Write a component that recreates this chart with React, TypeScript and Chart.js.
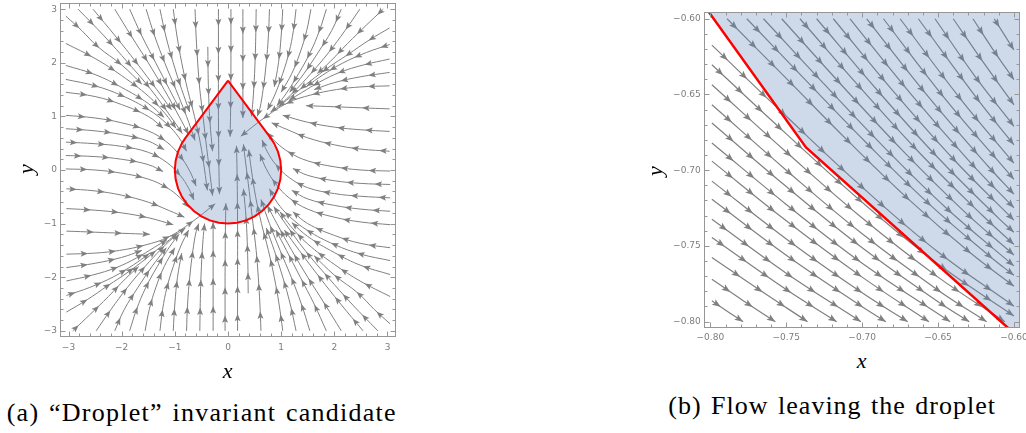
import React, { useEffect, useRef } from "react";
import { Chart, registerables } from "chart.js";

Chart.register(...registerables);

type Pt = [number, number];

// ---------------- Plot (a): "Droplet" invariant candidate ----------------
const xTicksA = [-3, -2, -1, 0, 1, 2, 3];
const xTickLabelsA = ["−3", "−2", "−1", "0", "1", "2", "3"];
const yTicksA = [-3, -2, -1, 0, 1, 2, 3];
const yTickLabelsA = ["−3", "−2", "−1", "0", "1", "2", "3"];

const dropletX = [0, 0.8, 0.866, 0.9397, 0.9848, 1, 0.9848, 0.9397, 0.866, 0.766, 0.6428, 0.5, 0.342, 0.1736, 0, -0.1736, -0.342, -0.5, -0.6428, -0.766, -0.866, -0.9397, -0.9848, -1, -0.9848, -0.9397, -0.866, -0.8, 0];
const dropletY = [1.6667, 0.6, 0.5, 0.342, 0.1736, 0, -0.1736, -0.342, -0.5, -0.6428, -0.766, -0.866, -0.9397, -0.9848, -1, -0.9848, -0.9397, -0.866, -0.766, -0.6428, -0.5, -0.342, -0.1736, 0, 0.1736, 0.342, 0.5, 0.6, 1.6667];

const streamsTopLeft: Pt[][] = [
  [[-2.82, 3.0], [-2.33, 2.5], [-1.88, 2.0], [-1.45, 1.5], [-1.08, 1.0], [-0.86, 0.68]],
  [[-2.54, 3.0], [-2.12, 2.5], [-1.72, 2.0], [-1.34, 1.5], [-1.06, 1.12]],
  [[-2.13, 3.0], [-1.82, 2.5], [-1.5, 2.0], [-1.2, 1.5], [-0.92, 1.0], [-0.74, 0.66]],
  [[-1.85, 3.0], [-1.62, 2.5], [-1.36, 2.0], [-1.1, 1.5], [-0.9, 1.12]],
  [[-1.54, 3.0], [-1.38, 2.5], [-1.19, 2.0], [-0.98, 1.5], [-0.78, 1.0], [-0.62, 0.55]],
  [[-1.28, 3.0], [-1.17, 2.5], [-1.03, 2.0], [-0.87, 1.5], [-0.72, 1.08]],
  [[-1.03, 3.0], [-0.96, 2.5], [-0.87, 2.0], [-0.76, 1.5], [-0.63, 1.0], [-0.52, 0.5], [-0.44, 0.0], [-0.39, -0.38]],
  [[-0.62, 3.0], [-0.6, 2.5], [-0.57, 2.0], [-0.53, 1.5], [-0.47, 1.0], [-0.4, 0.4], [-0.33, -0.15], [-0.29, -0.48]],
  [[-0.38, 2.3], [-0.37, 1.6], [-0.34, 0.9], [-0.29, 0.35]],
  [[-0.18, 3.0], [-0.18, 2.0], [-0.18, 1.0], [-0.17, 0.0], [-0.16, -0.45]],
  [[-3.05, 2.87], [-2.75, 2.6], [-2.45, 2.3], [-2.0, 1.96], [-1.62, 1.6]],
  [[-3.05, 2.36], [-2.5, 2.08], [-2.0, 1.76], [-1.5, 1.38], [-1.18, 1.05], [-0.98, 0.78]],
  [[-3.05, 1.95], [-2.5, 1.78], [-2.0, 1.54], [-1.5, 1.24], [-1.2, 0.98]],
  [[-3.05, 1.69], [-2.5, 1.57], [-2.0, 1.39], [-1.5, 1.13], [-1.15, 0.86], [-0.92, 0.6], [-0.78, 0.35]],
  [[-3.05, 1.45], [-2.5, 1.37], [-2.0, 1.22], [-1.5, 1.0], [-1.22, 0.78]],
  [[-3.05, 1.02], [-2.5, 0.97], [-2.0, 0.88], [-1.5, 0.73], [-1.15, 0.52], [-0.9, 0.26], [-0.72, -0.02], [-0.6, -0.3]],
  [[-3.05, 0.77], [-2.5, 0.73], [-2.0, 0.66], [-1.5, 0.54], [-1.2, 0.38]],
  [[-3.05, 0.52], [-2.5, 0.49], [-2.0, 0.44], [-1.5, 0.33], [-1.15, 0.14], [-0.9, -0.1], [-0.74, -0.34], [-0.64, -0.56]],
  [[-3.05, 0.27], [-2.5, 0.25], [-2.0, 0.2], [-1.5, 0.1], [-1.22, -0.03]],
  [[-3.05, 0.02], [-2.5, 0.0], [-2.0, -0.06], [-1.5, -0.17], [-1.15, -0.33], [-0.9, -0.52], [-0.74, -0.7]],
];

const streamsBottomRight: Pt[][] = [
  [[2.82, -3.0], [2.33, -2.5], [1.88, -2.0], [1.45, -1.5], [1.08, -1.0], [0.86, -0.68]],
  [[2.54, -3.0], [2.12, -2.5], [1.72, -2.0], [1.34, -1.5], [1.06, -1.12]],
  [[2.13, -3.0], [1.82, -2.5], [1.5, -2.0], [1.2, -1.5], [0.92, -1.0], [0.74, -0.66]],
  [[1.85, -3.0], [1.62, -2.5], [1.36, -2.0], [1.1, -1.5], [0.9, -1.12]],
  [[1.54, -3.0], [1.38, -2.5], [1.19, -2.0], [0.98, -1.5], [0.78, -1.0], [0.62, -0.55]],
  [[1.28, -3.0], [1.17, -2.5], [1.03, -2.0], [0.87, -1.5], [0.72, -1.08]],
  [[1.03, -3.0], [0.96, -2.5], [0.87, -2.0], [0.76, -1.5], [0.63, -1.0], [0.52, -0.5], [0.44, 0.0], [0.39, 0.38]],
  [[0.62, -3.0], [0.6, -2.5], [0.57, -2.0], [0.53, -1.5], [0.47, -1.0], [0.4, -0.4], [0.33, 0.15], [0.29, 0.48]],
  [[0.38, -2.3], [0.37, -1.6], [0.34, -0.9], [0.29, -0.35]],
  [[0.18, -3.0], [0.18, -2.0], [0.18, -1.0], [0.17, 0.0], [0.16, 0.45]],
  [[3.05, -2.87], [2.75, -2.6], [2.45, -2.3], [2.0, -1.96], [1.62, -1.6]],
  [[3.05, -2.36], [2.5, -2.08], [2.0, -1.76], [1.5, -1.38], [1.18, -1.05], [0.98, -0.78]],
  [[3.05, -1.95], [2.5, -1.78], [2.0, -1.54], [1.5, -1.24], [1.2, -0.98]],
  [[3.05, -1.69], [2.5, -1.57], [2.0, -1.39], [1.5, -1.13], [1.15, -0.86], [0.92, -0.6], [0.78, -0.35]],
  [[3.05, -1.45], [2.5, -1.37], [2.0, -1.22], [1.5, -1.0], [1.22, -0.78]],
  [[3.05, -1.02], [2.5, -0.97], [2.0, -0.88], [1.5, -0.73], [1.15, -0.52], [0.9, -0.26], [0.72, 0.02], [0.6, 0.3]],
  [[3.05, -0.77], [2.5, -0.73], [2.0, -0.66], [1.5, -0.54], [1.2, -0.38]],
  [[3.05, -0.52], [2.5, -0.49], [2.0, -0.44], [1.5, -0.33], [1.15, -0.14], [0.9, 0.1], [0.74, 0.34], [0.64, 0.56]],
  [[3.05, -0.27], [2.5, -0.25], [2.0, -0.2], [1.5, -0.1], [1.22, 0.03]],
  [[3.05, -0.02], [2.5, 0.0], [2.0, 0.06], [1.5, 0.17], [1.15, 0.33], [0.9, 0.52], [0.74, 0.7]],
];

const streamsBottomLeft: Pt[][] = [
  [[-3.04, -0.35], [-2.5, -0.39], [-2.0, -0.47], [-1.5, -0.6], [-1.1, -0.76], [-0.82, -0.88]],
  [[-3.04, -0.72], [-2.5, -0.75], [-2.0, -0.8], [-1.5, -0.89], [-1.03, -1.02]],
  [[-3.04, -1.14], [-2.5, -1.16], [-2.0, -1.18], [-1.47, -1.2]],
  [[-3.04, -1.57], [-2.5, -1.55], [-2.04, -1.5], [-1.56, -1.4], [-1.12, -1.25], [-0.68, -0.97], [-0.24, -0.63]],
  [[-3.04, -1.82], [-2.5, -1.74], [-2.0, -1.63], [-1.62, -1.5]],
  [[-3.04, -2.07], [-2.55, -1.96], [-2.1, -1.82], [-1.72, -1.64], [-1.38, -1.44], [-1.15, -1.3]],
  [[-3.04, -2.34], [-2.6, -2.19], [-2.15, -1.99], [-1.78, -1.77], [-1.48, -1.56]],
  [[-3.04, -2.65], [-2.65, -2.42], [-2.25, -2.15], [-1.9, -1.92], [-1.55, -1.66], [-1.25, -1.42], [-0.95, -1.18]],
  [[-2.92, -3.0], [-2.6, -2.7], [-2.25, -2.36], [-1.92, -2.02], [-1.68, -1.8]],
  [[-2.48, -3.0], [-2.2, -2.6], [-1.9, -2.2], [-1.56, -1.8], [-1.25, -1.47], [-0.96, -1.2], [-0.8, -1.08]],
  [[-2.13, -3.0], [-1.95, -2.6], [-1.7, -2.2], [-1.43, -1.8], [-1.16, -1.45]],
  [[-1.85, -3.0], [-1.72, -2.6], [-1.55, -2.2], [-1.33, -1.8], [-1.09, -1.42], [-0.92, -1.2]],
  [[-1.56, -3.0], [-1.48, -2.6], [-1.36, -2.2], [-1.2, -1.8], [-1.0, -1.45]],
  [[-1.28, -3.0], [-1.23, -2.6], [-1.15, -2.2], [-1.03, -1.8], [-0.88, -1.4], [-0.74, -1.12]],
  [[-1.03, -3.0], [-1.0, -2.5], [-0.95, -2.0], [-0.87, -1.55]],
  [[-0.78, -3.0], [-0.76, -2.5], [-0.72, -2.0], [-0.66, -1.5], [-0.6, -1.15], [-0.55, -1.0]],
  [[-0.53, -3.0], [-0.52, -2.4], [-0.5, -1.8], [-0.47, -1.3], [-0.44, -1.0]],
  [[-0.28, -3.0], [-0.28, -2.0], [-0.28, -1.3], [-0.28, -0.97]],
  [[-0.055, -3.0], [-0.055, -2.0], [-0.05, -1.2], [-0.04, -0.62]],
];

const streamsTopRight: Pt[][] = [
  [[3.04, 0.35], [2.5, 0.39], [2.0, 0.47], [1.5, 0.6], [1.1, 0.76], [0.82, 0.88]],
  [[3.04, 0.72], [2.5, 0.75], [2.0, 0.8], [1.5, 0.89], [1.03, 1.02]],
  [[3.04, 1.14], [2.5, 1.16], [2.0, 1.18], [1.47, 1.2]],
  [[3.04, 1.57], [2.5, 1.55], [2.04, 1.5], [1.56, 1.4], [1.12, 1.25], [0.68, 0.97], [0.24, 0.63]],
  [[3.04, 1.82], [2.5, 1.74], [2.0, 1.63], [1.62, 1.5]],
  [[3.04, 2.07], [2.55, 1.96], [2.1, 1.82], [1.72, 1.64], [1.38, 1.44], [1.15, 1.3]],
  [[3.04, 2.34], [2.6, 2.19], [2.15, 1.99], [1.78, 1.77], [1.48, 1.56]],
  [[3.04, 2.65], [2.65, 2.42], [2.25, 2.15], [1.9, 1.92], [1.55, 1.66], [1.25, 1.42], [0.95, 1.18]],
  [[2.92, 3.0], [2.6, 2.7], [2.25, 2.36], [1.92, 2.02], [1.68, 1.8]],
  [[2.48, 3.0], [2.2, 2.6], [1.9, 2.2], [1.56, 1.8], [1.25, 1.47], [0.96, 1.2], [0.8, 1.08]],
  [[2.13, 3.0], [1.95, 2.6], [1.7, 2.2], [1.43, 1.8], [1.16, 1.45]],
  [[1.85, 3.0], [1.72, 2.6], [1.55, 2.2], [1.33, 1.8], [1.09, 1.42], [0.92, 1.2]],
  [[1.56, 3.0], [1.48, 2.6], [1.36, 2.2], [1.2, 1.8], [1.0, 1.45]],
  [[1.28, 3.0], [1.23, 2.6], [1.15, 2.2], [1.03, 1.8], [0.88, 1.4], [0.74, 1.12]],
  [[1.03, 3.0], [1.0, 2.5], [0.95, 2.0], [0.87, 1.55]],
  [[0.78, 3.0], [0.76, 2.5], [0.72, 2.0], [0.66, 1.5], [0.6, 1.15], [0.55, 1.0]],
  [[0.53, 3.0], [0.52, 2.4], [0.5, 1.8], [0.47, 1.3], [0.44, 1.0]],
  [[0.28, 3.0], [0.28, 2.0], [0.28, 1.3], [0.28, 0.97]],
  [[0.055, 3.0], [0.055, 2.0], [0.05, 1.2], [0.04, 0.62]],
];

// ---------------- Plot (b): flow leaving the droplet ----------------
const xTicksB = [-0.8, -0.75, -0.7, -0.65, -0.6];
const xTickLabelsB = ["−0.80", "−0.75", "−0.70", "−0.65", "−0.60"];
const yTicksB = [-0.8, -0.75, -0.7, -0.65, -0.6];
const yTickLabelsB = ["−0.80", "−0.75", "−0.70", "−0.65", "−0.60"];

const boundaryBX = [-0.81, -0.737, -0.58];
const boundaryBY = [-0.583, -0.685, -0.8255];
const regionBX = [-0.81, -0.737, -0.58, -0.58, -0.81];
const regionBY = [-0.583, -0.685, -0.8255, -0.58, -0.58];

const streamsBFromLeft: Pt[][] = [
  [[-0.799, -0.6174], [-0.75, -0.6644], [-0.7, -0.7112], [-0.65, -0.754], [-0.6, -0.7898]],
  [[-0.799, -0.6304], [-0.75, -0.676], [-0.7, -0.7212], [-0.65, -0.762], [-0.6, -0.7962]],
  [[-0.799, -0.6436], [-0.75, -0.688], [-0.7, -0.7316], [-0.65, -0.7706], [-0.606, -0.8]],
  [[-0.799, -0.6568], [-0.75, -0.7], [-0.7, -0.742], [-0.65, -0.7792], [-0.618, -0.8]],
  [[-0.799, -0.6688], [-0.75, -0.7108], [-0.7, -0.7512], [-0.65, -0.7868], [-0.6294, -0.8]],
  [[-0.799, -0.682], [-0.75, -0.7226], [-0.7, -0.7614], [-0.642, -0.8]],
  [[-0.799, -0.694], [-0.75, -0.7334], [-0.7, -0.7706], [-0.656, -0.8]],
  [[-0.799, -0.7072], [-0.75, -0.7454], [-0.7, -0.781], [-0.67, -0.8]],
  [[-0.799, -0.7192], [-0.75, -0.7562], [-0.7, -0.7902], [-0.6844, -0.8]],
  [[-0.799, -0.7324], [-0.75, -0.768], [-0.7008, -0.8]],
  [[-0.799, -0.7444], [-0.75, -0.7788], [-0.7168, -0.8]],
  [[-0.799, -0.7576], [-0.768, -0.7788], [-0.736, -0.8]],
  [[-0.799, -0.772], [-0.7786, -0.786], [-0.7572, -0.8]],
  [[-0.799, -0.7862], [-0.7892, -0.793], [-0.7784, -0.8]],
];

const streamsBFromTop: Pt[][] = [
  [[-0.789, -0.6], [-0.749, -0.6404], [-0.709, -0.681], [-0.669, -0.7196], [-0.629, -0.7544], [-0.6, -0.7766]],
  [[-0.776, -0.6], [-0.736, -0.6418], [-0.696, -0.6832], [-0.656, -0.7222], [-0.616, -0.7568], [-0.6, -0.7694]],
  [[-0.765, -0.6], [-0.725, -0.6432], [-0.685, -0.6854], [-0.645, -0.7246], [-0.6, -0.7632]],
  [[-0.753, -0.6], [-0.713, -0.6444], [-0.673, -0.6874], [-0.633, -0.727], [-0.6, -0.756]],
  [[-0.741, -0.6], [-0.701, -0.6458], [-0.661, -0.6898], [-0.621, -0.7296], [-0.6, -0.749]],
  [[-0.73, -0.6], [-0.69, -0.6472], [-0.65, -0.6918], [-0.61, -0.7318], [-0.6, -0.741]],
  [[-0.719, -0.6], [-0.679, -0.6484], [-0.639, -0.6936], [-0.6, -0.733]],
  [[-0.708, -0.6], [-0.668, -0.6496], [-0.628, -0.6956], [-0.6, -0.7248]],
  [[-0.697, -0.6], [-0.657, -0.6508], [-0.617, -0.6974], [-0.6, -0.7158]],
  [[-0.686, -0.6], [-0.646, -0.652], [-0.6, -0.706]],
  [[-0.675, -0.6], [-0.635, -0.6532], [-0.6, -0.6954]],
  [[-0.663, -0.6], [-0.623, -0.6544], [-0.6, -0.6832]],
  [[-0.652, -0.6], [-0.626, -0.6375], [-0.6, -0.671]],
  [[-0.64, -0.6], [-0.62, -0.629], [-0.6, -0.6568]],
  [[-0.627, -0.6], [-0.614, -0.62], [-0.6, -0.6402]],
  [[-0.613, -0.6], [-0.6, -0.6206]],
];

// ---------------- styling ----------------
const STREAM_COLOR = "rgb(128,128,128)";
const FRAME_COLOR = "rgb(150,150,150)";
const LABEL_COLOR = "rgb(125,125,125)";
const RED = "rgb(255,0,0)";
const REGION_FILL = "rgba(94,129,181,0.3)";

type Cfg = {
  streams: Pt[][];
  boundaryX: number[];
  boundaryY: number[];
  regionX: number[];
  regionY: number[];
  xMin: number; xMax: number; yMin: number; yMax: number;
  width: number; height: number; left: number;
  padding: { left: number; top: number; right: number; bottom: number };
  xTicks: number[]; xLabels: string[]; yTicks: number[]; yLabels: string[];
  minorStep: number; minorFrom: number; minorTo: number;
  lineWidth: number; redWidth: number;
  arrowLen: number; arrowHalf: number; arrowSpacing: number;
  xLabelOffset: number; yLabelGap: number;
};

function drawArrows(ctx: CanvasRenderingContext2D, pts: any[], len: number, half: number, spacing: number) {
  if (!pts || pts.length < 2) return;
  const poly: number[][] = [[pts[0].x, pts[0].y]];
  for (let i = 0; i < pts.length - 1; i++) {
    const a = pts[i], b = pts[i + 1];
    const c1x = Number.isFinite(a.cp2x) ? a.cp2x : a.x;
    const c1y = Number.isFinite(a.cp2y) ? a.cp2y : a.y;
    const c2x = Number.isFinite(b.cp1x) ? b.cp1x : b.x;
    const c2y = Number.isFinite(b.cp1y) ? b.cp1y : b.y;
    for (let k = 1; k <= 16; k++) {
      const t = k / 16, m = 1 - t;
      poly.push([
        m * m * m * a.x + 3 * m * m * t * c1x + 3 * m * t * t * c2x + t * t * t * b.x,
        m * m * m * a.y + 3 * m * m * t * c1y + 3 * m * t * t * c2y + t * t * t * b.y,
      ]);
    }
  }
  const cum = [0];
  for (let i = 1; i < poly.length; i++) {
    cum.push(cum[i - 1] + Math.hypot(poly[i][0] - poly[i - 1][0], poly[i][1] - poly[i - 1][1]));
  }
  const total = cum[cum.length - 1];
  const posAt = (s: number) => {
    let lo = 0, hi = cum.length - 1;
    while (hi - lo > 1) {
      const mid = (lo + hi) >> 1;
      if (cum[mid] <= s) lo = mid; else hi = mid;
    }
    const seg = cum[hi] - cum[lo] || 1;
    const t = Math.min(1, Math.max(0, (s - cum[lo]) / seg));
    return [poly[lo][0] + (poly[hi][0] - poly[lo][0]) * t, poly[lo][1] + (poly[hi][1] - poly[lo][1]) * t];
  };
  for (let s = total; s - len >= 0; s -= spacing) {
    const tip = posAt(s);
    const back = posAt(s - len);
    let dx = tip[0] - back[0], dy = tip[1] - back[1];
    const d = Math.hypot(dx, dy);
    if (d < 1e-6) continue;
    dx /= d; dy /= d;
    const bx = tip[0] - dx * len, by = tip[1] - dy * len;
    const nx = -dy, ny = dx;
    const notch = 0.8 * len;
    ctx.beginPath();
    ctx.moveTo(tip[0], tip[1]);
    ctx.lineTo(bx + nx * half, by + ny * half);
    ctx.lineTo(tip[0] - dx * notch, tip[1] - dy * notch);
    ctx.lineTo(bx - nx * half, by - ny * half);
    ctx.closePath();
    ctx.fill();
  }
}

function StreamChart({ cfg }: { cfg: Cfg }) {
  const ref = useRef<HTMLCanvasElement | null>(null);
  useEffect(() => {
    const canvas = ref.current;
    if (!canvas) return;
    const boundarySet: any = {
      data: cfg.boundaryX.map((x, i) => ({ x, y: cfg.boundaryY[i] })),
      borderColor: RED,
      borderWidth: cfg.redWidth,
      borderJoinStyle: "miter",
      pointRadius: 0,
      tension: 0,
      fill: false,
      order: 0,
      clip: 0,
    };
    const streamSets: any[] = cfg.streams.map((line) => ({
      data: line.map(([x, y]) => ({ x, y })),
      borderColor: STREAM_COLOR,
      borderWidth: cfg.lineWidth,
      pointRadius: 0,
      tension: 0.4,
      fill: false,
      order: 1,
      clip: 0,
    }));
    const decor = {
      id: "streamDecor",
      beforeDatasetDraw(chart: any, args: any) {
        if (args.index !== 0) return;
        const ctx: CanvasRenderingContext2D = chart.ctx;
        const a = chart.chartArea;
        ctx.save();
        ctx.beginPath();
        ctx.rect(a.left, a.top, a.right - a.left, a.bottom - a.top);
        ctx.clip();
        ctx.fillStyle = STREAM_COLOR;
        for (let i = 1; i < chart.data.datasets.length; i++) {
          const meta = chart.getDatasetMeta(i);
          drawArrows(ctx, meta.data, cfg.arrowLen, cfg.arrowHalf, cfg.arrowSpacing);
        }
        const xs = chart.scales.x, ys = chart.scales.y;
        ctx.beginPath();
        cfg.regionX.forEach((x, k) => {
          const px = xs.getPixelForValue(x), py = ys.getPixelForValue(cfg.regionY[k]);
          if (k === 0) ctx.moveTo(px, py); else ctx.lineTo(px, py);
        });
        ctx.closePath();
        ctx.fillStyle = REGION_FILL;
        ctx.fill();
        ctx.restore();
      },
      afterDraw(chart: any) {
        const ctx: CanvasRenderingContext2D = chart.ctx;
        const a = chart.chartArea;
        const xs = chart.scales.x, ys = chart.scales.y;
        const L = Math.floor(a.left) + 0.5, R = Math.ceil(a.right) - 0.5;
        const T = Math.floor(a.top) + 0.5, B = Math.ceil(a.bottom) - 0.5;
        ctx.save();
        ctx.strokeStyle = FRAME_COLOR;
        ctx.lineWidth = 1;
        ctx.strokeRect(L, T, R - L, B - T);
        const major = 5, minor = 3;
        const tickX = (v: number, len: number) => {
          const px = Math.round(xs.getPixelForValue(v)) + 0.5;
          ctx.beginPath();
          ctx.moveTo(px, B); ctx.lineTo(px, B - len);
          ctx.moveTo(px, T); ctx.lineTo(px, T + len);
          ctx.stroke();
        };
        const tickY = (v: number, len: number) => {
          const py = Math.round(ys.getPixelForValue(v)) + 0.5;
          ctx.beginPath();
          ctx.moveTo(L, py); ctx.lineTo(L + len, py);
          ctx.moveTo(R, py); ctx.lineTo(R - len, py);
          ctx.stroke();
        };
        const nMinor = Math.round((cfg.minorTo - cfg.minorFrom) / cfg.minorStep);
        for (let k = 0; k <= nMinor; k++) {
          const v = cfg.minorFrom + k * cfg.minorStep;
          const isMajorX = cfg.xTicks.some((t) => Math.abs(t - v) < cfg.minorStep / 10);
          if (!isMajorX) { tickX(v, minor); tickY(v, minor); }
        }
        cfg.xTicks.forEach((v) => tickX(v, major));
        cfg.yTicks.forEach((v) => tickY(v, major));
        ctx.fillStyle = LABEL_COLOR;
        ctx.font = "9px 'DejaVu Sans'";
        ctx.textAlign = "center";
        ctx.textBaseline = "middle";
        cfg.xTicks.forEach((v, i) => {
          ctx.fillText(cfg.xLabels[i], xs.getPixelForValue(v), a.bottom + cfg.xLabelOffset);
        });
        ctx.textAlign = "right";
        cfg.yTicks.forEach((v, i) => {
          ctx.fillText(cfg.yLabels[i], a.left - cfg.yLabelGap, ys.getPixelForValue(v));
        });
        ctx.restore();
      },
    };
    const chart = new Chart(canvas, {
      type: "line",
      data: { datasets: [boundarySet, ...streamSets] },
      options: {
        responsive: false,
        animation: false,
        devicePixelRatio: 1,
        events: [],
        layout: { padding: cfg.padding },
        plugins: { legend: { display: false }, tooltip: { enabled: false } },
        elements: { point: { radius: 0 } },
        scales: {
          x: { type: "linear", min: cfg.xMin, max: cfg.xMax, display: false },
          y: { type: "linear", min: cfg.yMin, max: cfg.yMax, display: false },
        },
      } as any,
      plugins: [decor as any],
    });
    return () => chart.destroy();
  }, [cfg]);
  return (
    <canvas
      ref={ref}
      width={cfg.width}
      height={cfg.height}
      style={{ position: "absolute", left: cfg.left, top: 0, width: cfg.width, height: cfg.height }}
    />
  );
}

const cfgA: Cfg = {
  streams: [...streamsTopLeft, ...streamsTopRight, ...streamsBottomLeft, ...streamsBottomRight],
  boundaryX: dropletX, boundaryY: dropletY,
  regionX: dropletX, regionY: dropletY,
  xMin: -3.16, xMax: 3.16, yMin: -3.115, yMax: 3.115,
  width: 400, height: 360, left: 0,
  padding: { left: 60, top: 3, right: 4, bottom: 23 },
  xTicks: xTicksA, xLabels: xTickLabelsA, yTicks: yTicksA, yLabels: yTickLabelsA,
  minorStep: 0.2, minorFrom: -3, minorTo: 3,
  lineWidth: 1, redWidth: 2,
  arrowLen: 7.5, arrowHalf: 3, arrowSpacing: 28,
  xLabelOffset: 10.5, yLabelGap: 3,
};

const cfgB: Cfg = {
  streams: [...streamsBFromLeft, ...streamsBFromTop],
  boundaryX: boundaryBX, boundaryY: boundaryBY,
  regionX: regionBX, regionY: regionBY,
  xMin: -0.804, xMax: -0.596, yMin: -0.804, yMax: -0.596,
  width: 386, height: 345, left: 640,
  padding: { left: 64.3, top: 12.7, right: 6, bottom: 17.3 },
  xTicks: xTicksB, xLabels: xTickLabelsB, yTicks: yTicksB, yLabels: yTickLabelsB,
  minorStep: 0.01, minorFrom: -0.8, minorTo: -0.6,
  lineWidth: 1.2, redWidth: 2.5,
  arrowLen: 8.5, arrowHalf: 3.3, arrowSpacing: 27,
  xLabelOffset: 9.6, yLabelGap: 3.6,
};

const serif = "'Liberation Serif', 'DejaVu Serif', serif";

export default function App() {
  return (
    <div style={{ position: "fixed", left: 0, top: 0, width: 1026, height: 433, background: "#fff", overflow: "hidden" }}>
      <StreamChart cfg={cfgA} />
      <StreamChart cfg={cfgB} />
      {/* axis titles */}
      <div style={{ position: "absolute", left: 227.7 - 15, top: 359.9, width: 30, textAlign: "center", font: `italic 22px ${serif}`, lineHeight: "22px", color: "#000" }}>x</div>
      <div style={{ position: "absolute", left: 26 - 15, top: 169 - 11, width: 30, height: 22, textAlign: "center", font: `italic 22px ${serif}`, lineHeight: "22px", color: "#000", transform: "rotate(-90deg)" }}>y</div>
      <div style={{ position: "absolute", left: 861.7 - 15, top: 349.9, width: 30, textAlign: "center", font: `italic 22px ${serif}`, lineHeight: "22px", color: "#000" }}>x</div>
      <div style={{ position: "absolute", left: 655.2 - 15, top: 171 - 11, width: 30, height: 22, textAlign: "center", font: `italic 22px ${serif}`, lineHeight: "22px", color: "#000", transform: "rotate(-90deg)" }}>y</div>
      {/* captions */}
      <div style={{ position: "absolute", left: 6.7, top: 398, font: `26px ${serif}`, lineHeight: "30px", letterSpacing: "1.25px", wordSpacing: "2px", whiteSpace: "nowrap", color: "#000" }}>
        (a) “Droplet” invariant candidate
      </div>
      <div style={{ position: "absolute", left: 668.3, top: 390.6, font: `26px ${serif}`, lineHeight: "30px", letterSpacing: "1px", wordSpacing: "2px", whiteSpace: "nowrap", color: "#000" }}>
        (b) Flow leaving the droplet
      </div>
    </div>
  );
}
